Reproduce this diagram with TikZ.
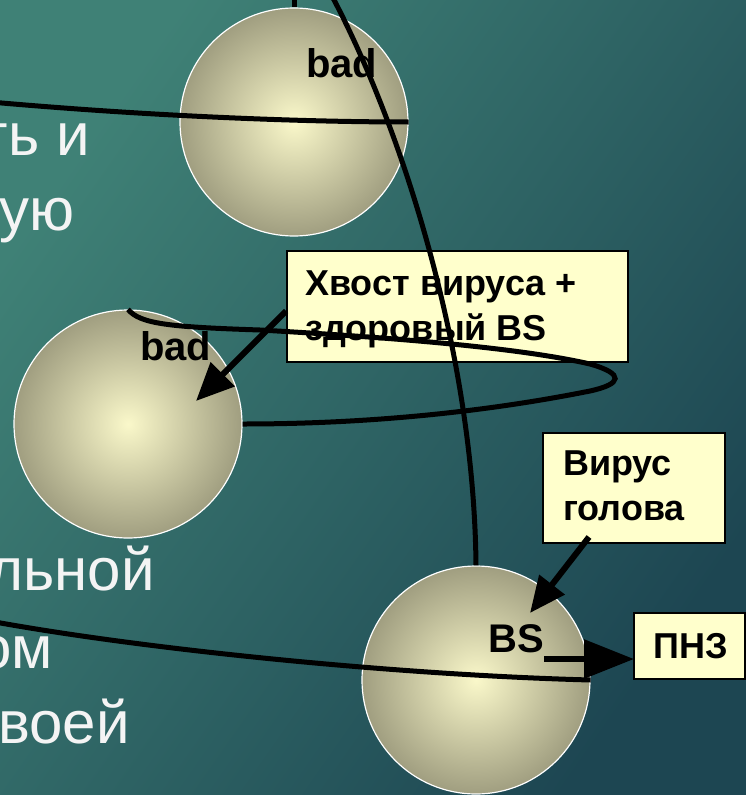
\documentclass[tikz,border=0pt]{standalone}
\usepackage{fontspec}
\setmainfont{Liberation Sans}
\usetikzlibrary{arrows.meta}
\definecolor{bgA}{HTML}{3F8176}
\definecolor{bgB}{HTML}{1D4652}
\definecolor{ballin}{HTML}{FAF8CA}
\definecolor{ballout}{HTML}{A09E80}
\definecolor{boxfill}{HTML}{FFFFCC}
\definecolor{slidetext}{HTML}{F4F4F4}
\begin{document}
\begin{tikzpicture}[x=1bp,y=-1bp,
  ball/.style={circle, minimum size=228bp, inner sep=0pt, draw=white, line width=1.2bp,
    inner color=ballin, outer color=ballout},
  lbox/.style={rectangle, draw=black, line width=1.5bp, fill=boxfill, inner sep=0pt},
  lbl/.style={inner sep=0pt, anchor=base west, font=\fontsize{36bp}{45bp}\selectfont\bfseries},
  balltxt/.style={inner sep=0pt, anchor=base west, font=\fontsize{40bp}{48bp}\selectfont\bfseries},
  slide/.style={inner sep=0pt, anchor=base east, text=slidetext, font=\fontsize{60bp}{72bp}\selectfont},
  curve/.style={line width=5bp},
  arr/.style={line width=6bp, -{Triangle[length=38bp,width=33bp]}}
]
\useasboundingbox (0,0) rectangle (746,795);
\shade[top color=bgA, bottom color=bgB, shading angle=55] (0,0) rectangle (746,795);

% slide text (cropped)
\node[slide] (s1) at (90,155) {ть и};
\node[slide] (s2) at (75,230) {ую};
\node[slide] (s3) at (155,590) {льной};
\node[slide] (s4) at (53,668) {ом};
\node[slide] (s5) at (130,743) {воей};

% balls
\node[ball] (c1) at (294,122) {};
\node[ball] (c2) at (128,424) {};
\node[ball] (c3) at (476,680) {};

% boxes
\node[lbox, minimum width=341bp, minimum height=111bp] (box1) at (457.5,306.5) {};
\node[lbox, minimum width=182bp, minimum height=110bp] (box2) at (634,488) {};
\node[lbox, minimum width=111bp, minimum height=66bp] (box3) at (689.5,646) {};

% labels
\node[lbl] (t1a) at (305,295) {Хвост вируса +};
\node[lbl] (t1b) at (305,340) {здоровый BS};
\node[lbl] (t2a) at (563,475) {Вирус};
\node[lbl] (t2b) at (563,520) {голова};
\node[lbl] (t3) at (653,658) {ПНЗ};
\node[balltxt] (bad1) at (306,78) {bad};
\node[balltxt] (bad2) at (140,360) {bad};
\node[balltxt] (bs) at (488,652) {BS};

% free ends
\coordinate (topv) at (294,-3);
\coordinate (aL) at (-4,102.5);
\coordinate (bT) at (333,-2);
\coordinate (eL) at (-5,622);
\coordinate (d0) at (286,311);
\coordinate (d1) at (196,401);
\coordinate (f0) at (589,537);
\coordinate (f1) at (530,613);
\coordinate (g0) at (544,659);
\coordinate (g1) at (634,659);

% curves
\draw[curve] (topv) -- (c1.north);
\draw[curve] (aL) .. controls (150,116) and (300,122) .. (c1.east);
\draw[curve] (bT) .. controls (400,125) and (474,350) .. (c3.north);
\draw[curve] (c2.north) .. controls (140,324) and (170,327) .. (260,330)
  .. controls (400,338) and (520,348) .. (590,364)
  .. controls (625,374) and (622,384) .. (590,391)
  .. controls (520,405) and (400,424) .. (c2.east);
\draw[curve] (eL) .. controls (150,650) and (400,675) .. (c3.east);

% arrows
\draw[arr] (d0) -- (d1);
\draw[arr, -{Triangle[length=36bp,width=31bp]}] (f0) -- (f1);
\draw[arr, -{Triangle[length=50bp,width=38bp]}] (g0) -- (g1);
\end{tikzpicture}
\end{document}
